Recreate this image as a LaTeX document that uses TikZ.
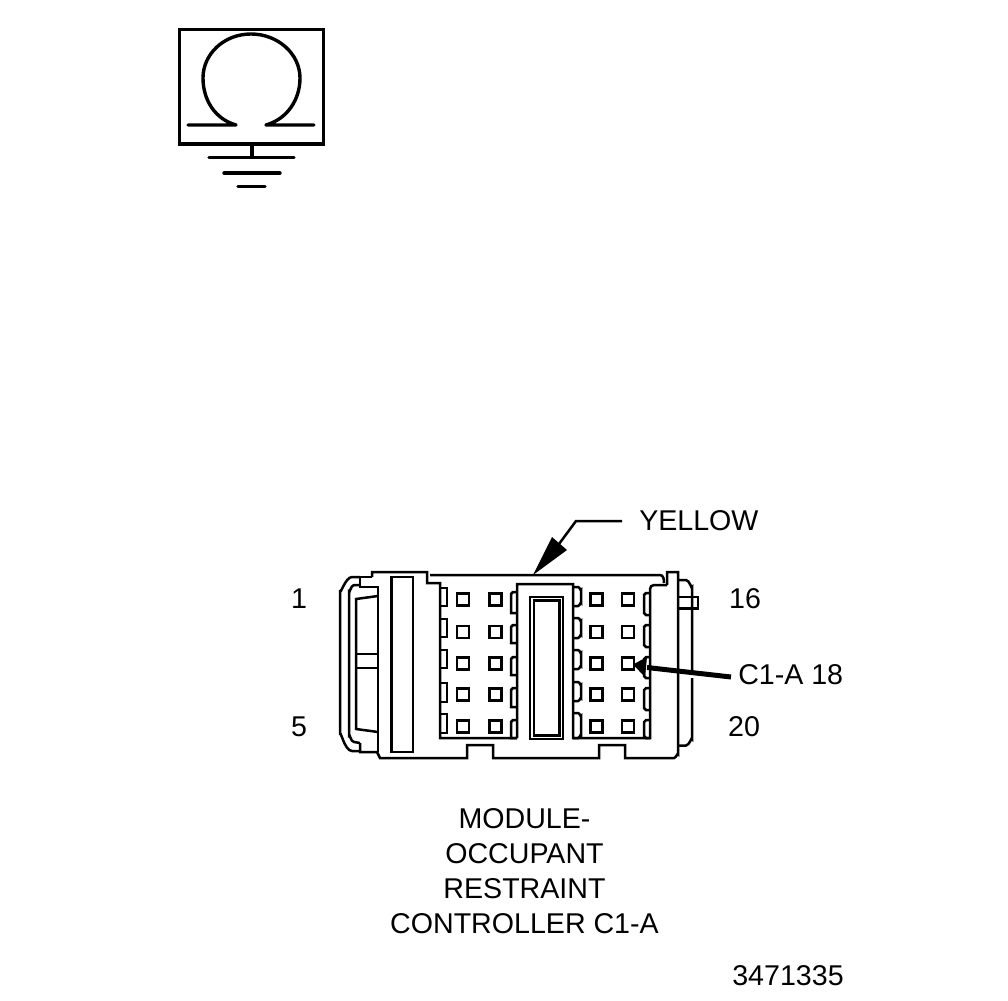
\documentclass[tikz,border=0pt]{standalone}
\usepackage{fontspec}
\setmainfont{Liberation Sans}
\begin{document}
\begin{tikzpicture}[x=1pt,y=-1pt,line width=2.5pt,line join=miter,
  lbl/.style={inner sep=0pt,font=\fontsize{28.6}{35}\selectfont,align=center},
  pin/.style={draw,minimum size=12pt,inner sep=0pt,line width=2.3pt},
  thick line/.style={line width=3.4pt}]
\useasboundingbox (0,0) rectangle (1008,1000);
% symbol at the top
\draw[thick line] (179.5,29.5) rectangle (323.5,144);
\draw[thick line,line cap=round,line join=round] (188,125) -- (236,125) .. controls (215,119) and (203,100) .. (203,78)
  .. controls (203,54) and (224,34) .. (251,34) .. controls (278,34) and (300,54) .. (300,78)
  .. controls (300,100) and (287,119) .. (266,125) -- (314,125);
\draw[thick line] (252,144) -- (252,157);
\draw[thick line,line cap=round] (209,157.5) -- (294,157.5);
\draw[thick line,line cap=round] (224,173) -- (280,173);
\draw[thick line,line cap=round] (238,186.5) -- (265,186.5);
% connector outline
\draw (430,575) -- (660,575) to[out=0,in=90] (664,583);
\draw (372,577) -- (372,572) -- (427,572) -- (427,583) -- (440,583) -- (440,738) -- (517,738)
  (517,738) -- (517,584) -- (573,584) -- (573,738) -- (650,738) -- (650,589) to[out=90,in=180] (654,585) -- (667,585)
  (667,585) -- (667,572) -- (678,572) -- (678,754) to[out=90,in=0] (674,758) -- (625,758) -- (625,745) -- (599,745) -- (599,758)
  -- (493,758) -- (493,745) -- (467,745) -- (467,758) -- (380,758) -- (377,752) -- (360,752) -- (360,743);
\draw (372,577) -- (360,577) -- (360,587) -- (378,587) -- (378,752);
\draw (360,577) -- (352,577) to[out=180,in=-90] (340,590) -- (340,735) to[out=90,in=180] (352,751) -- (360,751);
\draw (360,585) -- (354,585) to[out=180,in=-90] (349,592) -- (349,735) to[out=90,in=180] (354,742) -- (360,743);
\draw (378,596) -- (356,599) -- (356,729) -- (378,732);
\draw (356,654) -- (378,654) (356,668) -- (378,668);
\draw[line width=2.8pt] (391.5,577) rectangle (413,752);
% centre window
\draw[line width=1.6pt] (530,597) rectangle (563,739);
\draw[line width=2.2pt] (534,600.5) rectangle (559.5,735.5);
% right side
\draw (678,580) -- (686,580) to[out=0,in=-90] (692,587) -- (692,672);
\draw (692,678) -- (692,739) to[out=90,in=0] (686,745.5) -- (678,745.5);
\draw (678,597) -- (698,597) -- (698,608.5) -- (678,608.5);
% side tabs
\foreach \ya/\yb in {588/606,619/637,650/668,683/702,714/733}{
  \draw (440,\ya) -- (447,\ya) -- (447,\yb) -- (440,\yb);
}
\foreach \ya/\yb in {587/606,618/638,650/669,682/701,713/738}{
  \draw (573,\ya) -- (578,\ya) to[out=0,in=-90] (581,\ya+3) -- (581,\yb-3) to[out=90,in=0] (578,\yb) -- (573,\yb);
}
\foreach \ya/\yb in {592/613,625/643,657/675,688/707,720/738}{
  \draw (517,\ya) -- (513,\ya) -- (511,\ya+2) -- (511,\yb) -- (517,\yb);
}
\foreach \ya/\yb in {593/615,625/647,657/678,688/710,720/738}{
  \draw (650,\ya) -- (646,\ya) -- (644,\ya+2) -- (644,\yb-2) -- (646,\yb) -- (650,\yb);
}
% pins
\foreach \xo in {463,495.5,596.5,628}{
  \foreach \yo in {599.5,632,663.5,694.5,726.5}{
    \node[pin] (p\xo-\yo) at (\xo,\yo) {};
  }
}
% labels
\node[lbl] (one) at (299,599) {1};
\node[lbl] (five) at (299,727) {5};
\node[lbl] (sixteen) at (745,599) {16};
\node[lbl] (twenty) at (744,727) {20};
\node[lbl,anchor=west] (yellow) at (638,521) {YELLOW};
\node[lbl,anchor=west] (cavity) at (737,675) {C1-A 18};
\node[lbl] (module) at (524.5,871) {MODULE-\\OCCUPANT\\RESTRAINT\\CONTROLLER C1-A};
\node[lbl] (number) at (788,976) {3471335};
% leaders
\coordinate (ytip) at (533,575);
\coordinate (yknee) at (576,521);
\coordinate (ctip) at (633,664.5);
\draw (yellow.west) ++(-16,0) -- (yknee) -- (559,544);
\fill (ytip) -- (552,537) -- (567,550) -- cycle;
\draw[line width=5pt] (cavity.west) ++(-6,2) -- (647,667.5);
\fill (ctip) -- (647,657) -- (645,677) -- cycle;
\end{tikzpicture}
\end{document}
